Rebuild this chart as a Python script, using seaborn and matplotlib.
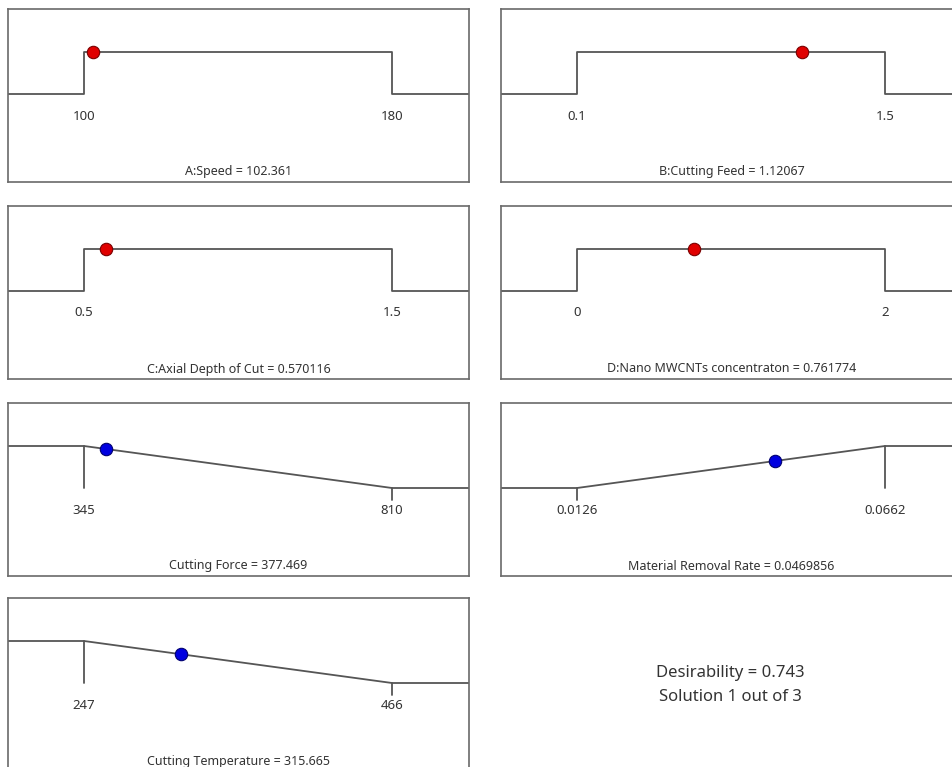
import matplotlib
matplotlib.use("Agg")
import matplotlib.pyplot as plt
import numpy as np
import pandas as pd
import seaborn as sns

# Optimisation ramps: factor ranges, goal type and the chosen solution
names = ["A:Speed", "B:Cutting Feed", "C:Axial Depth of Cut",
         "D:Nano MWCNTs concentraton", "Cutting Force",
         "Material Removal Rate", "Cutting Temperature"]
lows = [100, 0.1, 0.5, 0, 345, 0.0126, 247]
highs = [180, 1.5, 1.5, 2, 810, 0.0662, 466]
low_labels = ["100", "0.1", "0.5", "0", "345", "0.0126", "247"]
high_labels = ["180", "1.5", "1.5", "2", "810", "0.0662", "466"]
goals = ["range", "range", "range", "range", "minimize", "maximize", "minimize"]
solution = [102.361, 1.12067, 0.570116, 0.761774, 377.469, 0.0469856, 315.665]
solution_text = ["102.361", "1.12067", "0.570116", "0.761774",
                 "377.469", "0.0469856", "315.665"]
desirability_text = "0.743"
solution_index, solution_count = 1, 3

sns.set_theme(style="white")
plt.rcParams["font.family"] = ["Noto Sans", "DejaVu Sans"]

W, H = 952, 767
fig = plt.figure(figsize=(W / 100, H / 100), dpi=100)
fig.patch.set_facecolor("white")

col_x = [8, 501]
row_top = [9, 206, 403, 598]
pw, ph = 461, 173

line_col = "#555555"
text_col = "#333333"

# pixel layout inside a panel: baseline 88 px, top level 130 px above the bottom
y_lo = -88 / 42
y_hi = (ph - 88) / 42
tick_len = 12 / 42


def desirability(goal, lo, hi, x):
    if goal == "range":
        return 1.0 if lo <= x <= hi else 0.0
    frac = (x - lo) / (hi - lo)
    return 1 - frac if goal == "minimize" else frac


for i, name in enumerate(names):
    r, c = divmod(i, 2)
    left = col_x[c]
    top = row_top[r]
    ax = fig.add_axes([left / W, 1 - (top + ph) / H, pw / W, ph / H])
    lo, hi = lows[i], highs[i]
    span = hi - lo
    xmin = lo - 76 / 308 * span
    xmax = hi + 77 / 308 * span
    goal = goals[i]

    if goal == "range":
        xs = [xmin, lo, lo, hi, hi, xmax]
        ys = [0, 0, 1, 1, 0, 0]
    elif goal == "minimize":
        xs = [xmin, lo, hi, xmax]
        ys = [1, 1, 0, 0]
    else:
        xs = [xmin, lo, hi, xmax]
        ys = [0, 0, 1, 1]
    curve = pd.DataFrame({"x": xs, "y": ys})
    sns.lineplot(data=curve, x="x", y="y", sort=False, estimator=None,
                 color=line_col, lw=1.3, ax=ax)

    if goal != "range":
        top_x = lo if goal == "minimize" else hi
        bot_x = hi if goal == "minimize" else lo
        ax.plot([top_x, top_x, np.nan, bot_x, bot_x],
                [1, 0, np.nan, 0, -tick_len], color=line_col, lw=1.3)

    d = desirability(goal, lo, hi, solution[i])
    pt = pd.DataFrame({"x": [solution[i]], "y": [d]})
    face = "#e00000" if i < 4 else "#0000e0"
    edge = "#7a0000" if i < 4 else "#000070"
    sns.scatterplot(data=pt, x="x", y="y", s=80, color=face,
                    edgecolor=edge, linewidth=0.8, zorder=5, ax=ax)

    label_y = (66 - 88) / 42
    ax.text(lo, label_y, low_labels[i], ha="center", va="center",
            fontsize=9.5, color=text_col)
    ax.text(hi, label_y, high_labels[i], ha="center", va="center",
            fontsize=9.5, color=text_col)
    ax.text(0.5, 10 / ph, f"{name} = {solution_text[i]}",
            transform=ax.transAxes, ha="center", va="center",
            fontsize=9, color=text_col)

    ax.set_xlim(xmin, xmax)
    ax.set_ylim(y_lo, y_hi)
    ax.set_xticks([])
    ax.set_yticks([])
    ax.set_xlabel("")
    ax.set_ylabel("")
    for sp in ax.spines.values():
        sp.set_color("#6a6a6a")
        sp.set_linewidth(1.2)

fig.text(730 / W, 1 - 673 / H, f"Desirability = {desirability_text}",
         ha="center", va="center", fontsize=12, color=text_col)
fig.text(730 / W, 1 - 697 / H, f"Solution {solution_index} out of {solution_count}",
         ha="center", va="center", fontsize=12, color=text_col)

fig.savefig("out.png", dpi=100, facecolor="white")
